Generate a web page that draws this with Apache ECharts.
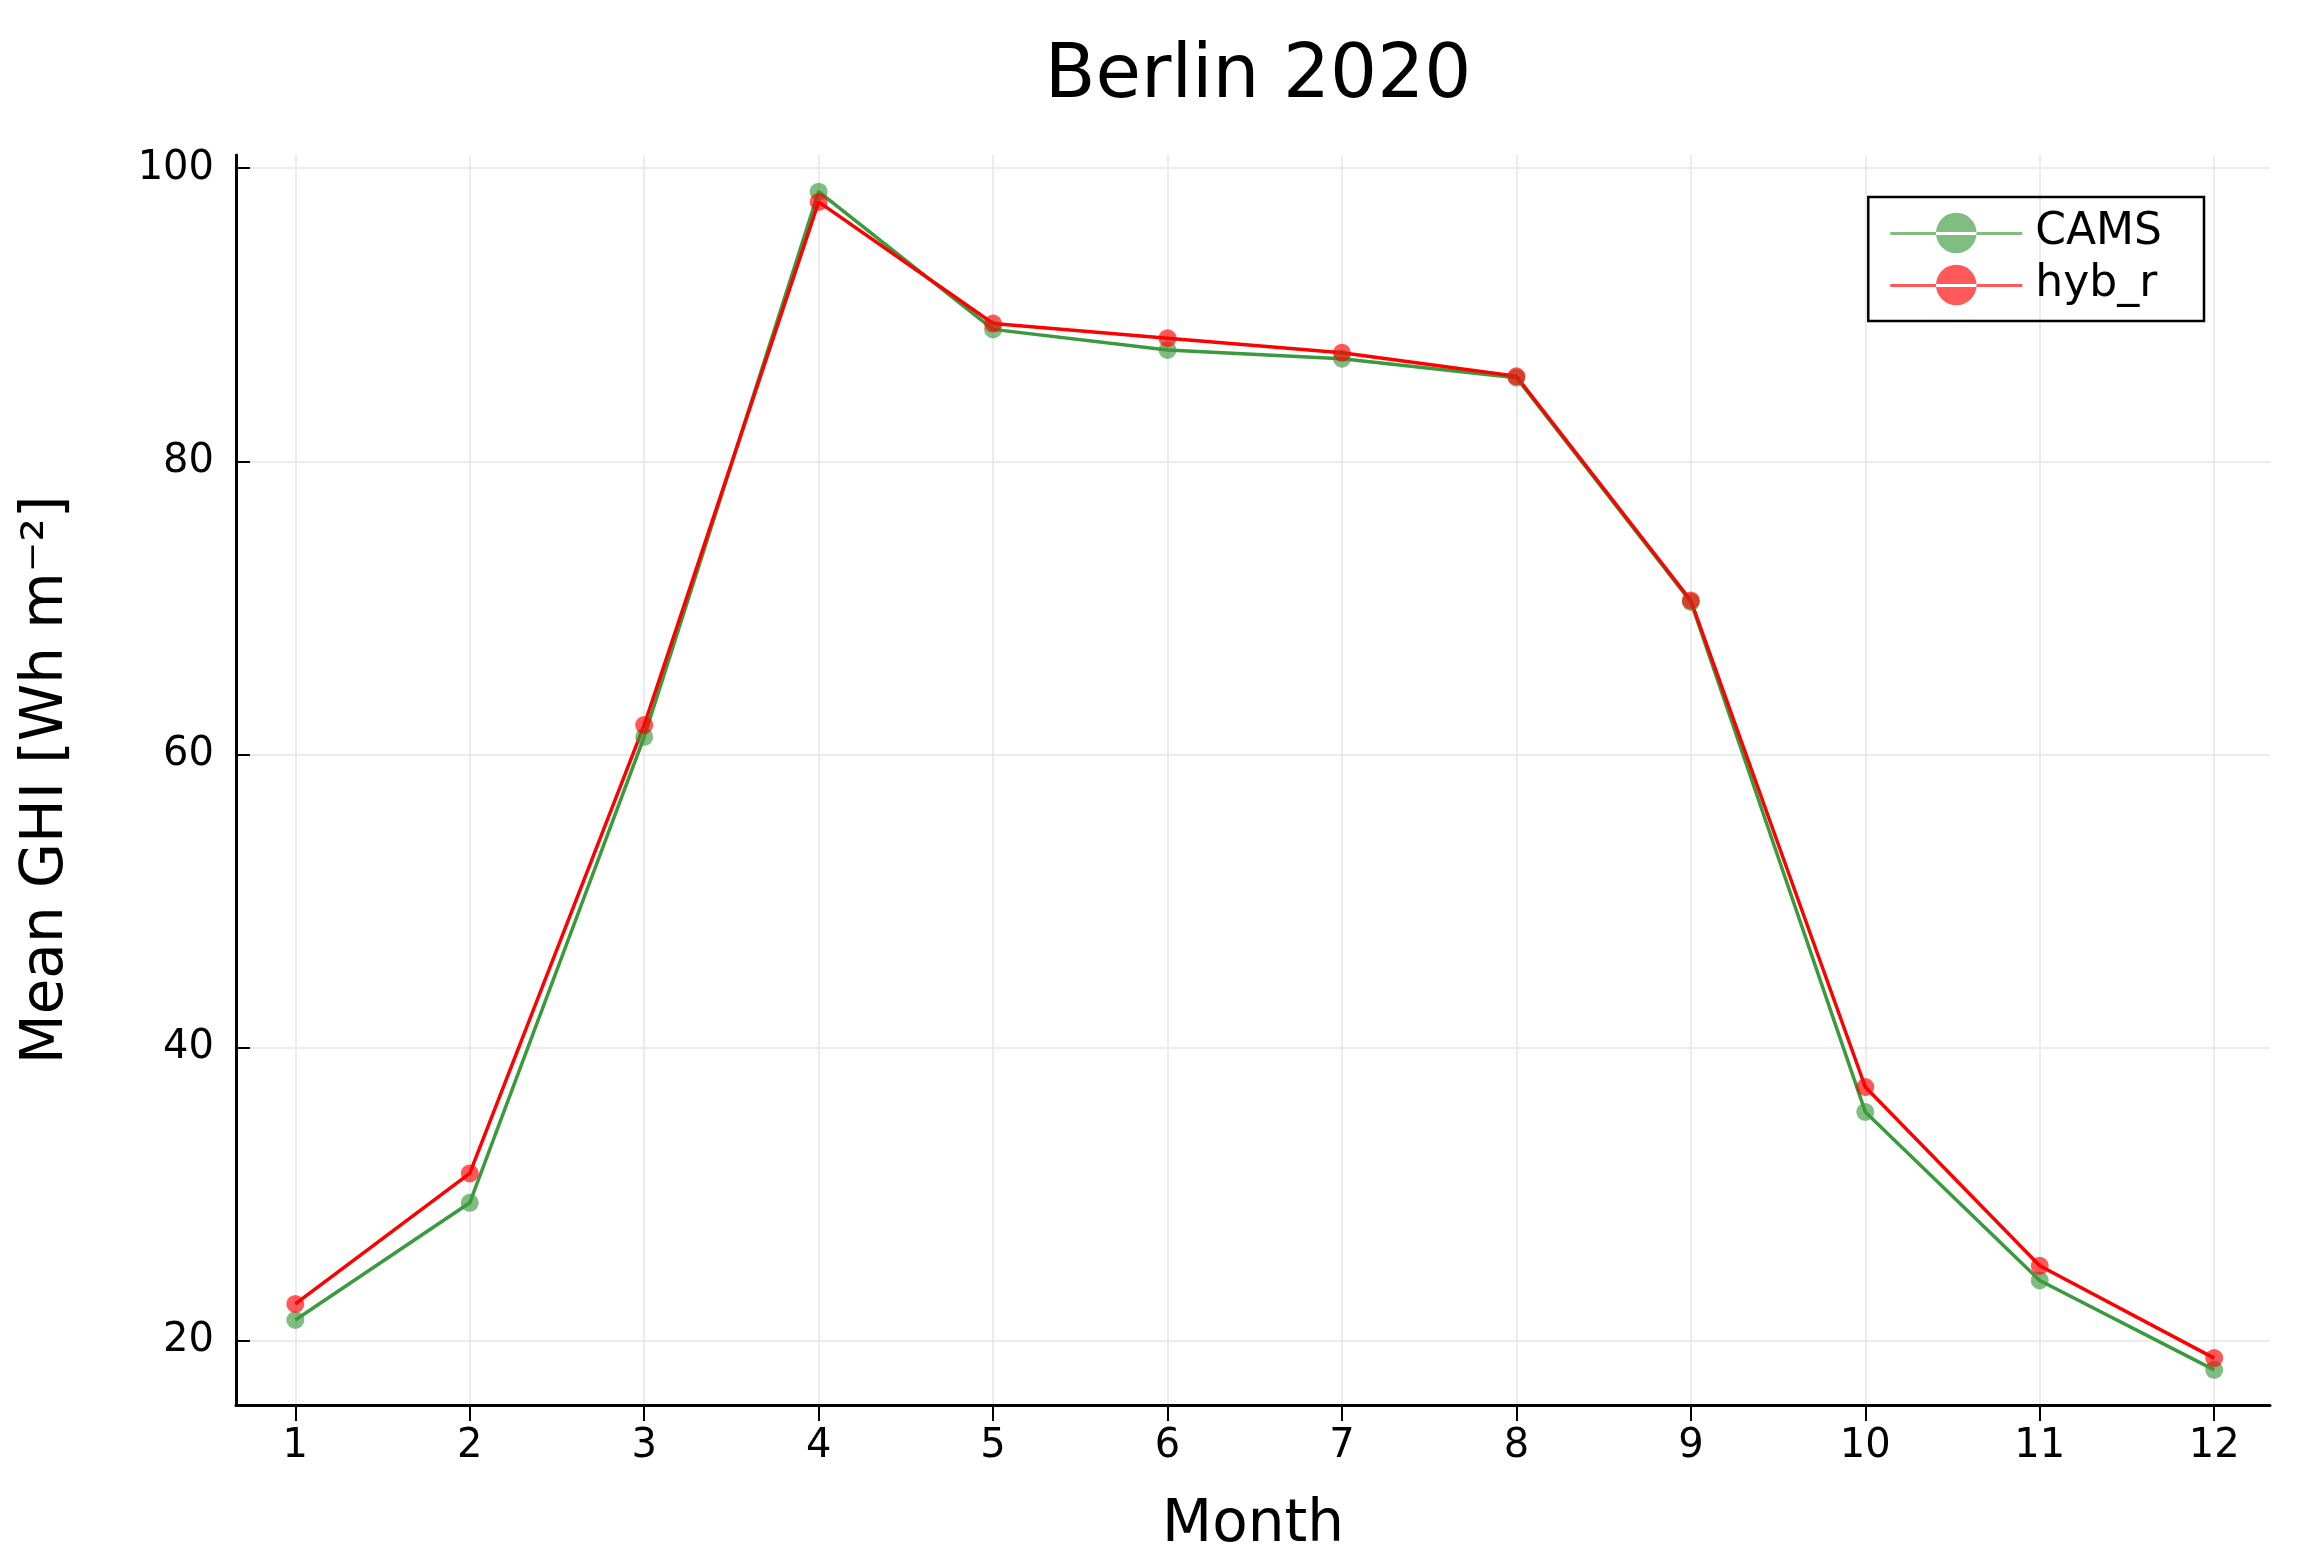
<!DOCTYPE html>
<html><head><meta charset="utf-8">
<script src="https://cdn.jsdelivr.net/npm/echarts@6/dist/echarts.min.js"></script>
<style>html,body{margin:0;padding:0;background:#fff}#c{width:2300px;height:1560px}</style>
</head><body><div id="c"></div>
<script>
const months = [1,2,3,4,5,6,7,8,9,10,11,12];
const cams = [21.4, 29.4, 61.2, 98.4, 89.0, 87.6, 87.0, 85.7, 70.4, 35.6, 24.1, 18.0];
const hybR = [22.5, 31.4, 62.0, 97.7, 89.4, 88.4, 87.4, 85.8, 70.5, 37.3, 25.1, 18.8];
const yTicks = [20, 40, 60, 80, 100];
const font = 'DejaVu Sans';
const legendIcon = 'path://M0,19h130v3H0z M65,0a20,20 0 1,0 0.01,0z';
const chart = echarts.init(document.getElementById('c'));
function ser(name, vals, color) {
  return {
    name, type: 'line', data: months.map((m, i) => [m, vals[i]]),
    symbol: 'circle', symbolSize: 18,
    itemStyle: {color: color, opacity: 0.65},
    lineStyle: {color: color, width: 3.5}, emphasis: {disabled: true}
  };
}
chart.setOption({
  animation: false,
  textStyle: {fontFamily: font},
  title: {text: 'Berlin 2020', left: 1253, textAlign: 'center', top: 36, textStyle: {fontFamily: font, fontSize: 74, fontWeight: 'normal', color: '#000'}},
  grid: {left: 236, right: 30, top: 155, bottom: 155},
  legend: {
    right: 96, top: 197, orient: 'vertical', itemWidth: 132, itemHeight: 42, itemGap: 8,
    padding: [14, 42, 14, 22], borderColor: '#000', borderWidth: 2.5,
    textStyle: {fontSize: 44, color: '#000', padding: [0, 0, 0, 8]},
    data: [{name: 'CAMS', icon: legendIcon}, {name: 'hyb_r', icon: legendIcon}]
  },
  xAxis: {
    type: 'value', min: 0.66, max: 12.32,
    name: 'Month', nameLocation: 'middle', nameGap: 92,
    nameTextStyle: {fontSize: 58, color: '#000'},
    axisLine: {onZero: false, lineStyle: {color: '#000', width: 3}},
    axisTick: {customValues: months, inside: false, length: 16, lineStyle: {color: '#000', width: 2}},
    axisLabel: {customValues: months, fontSize: 40, color: '#000', margin: 22},
    splitLine: {show: true, lineStyle: {color: '#e6e6e6', width: 1.5}}
  },
  yAxis: {
    type: 'value', min: 15.6, max: 100.9,
    name: 'Mean GHI [Wh m⁻²]', nameLocation: 'middle', nameGap: 160,
    nameTextStyle: {fontSize: 58, color: '#000'},
    axisLine: {show: true, onZero: false, lineStyle: {color: '#000', width: 3}},
    axisTick: {show: true, customValues: yTicks, inside: true, length: 14, lineStyle: {color: '#000', width: 2}},
    axisLabel: {customValues: yTicks, fontSize: 40, color: '#000', margin: 22},
    splitLine: {show: true, lineStyle: {color: '#e6e6e6', width: 1.5}}
  },
  series: [ser('CAMS', cams, '#3a9a3e'), ser('hyb_r', hybR, '#ff0000')]
});
</script></body></html>
